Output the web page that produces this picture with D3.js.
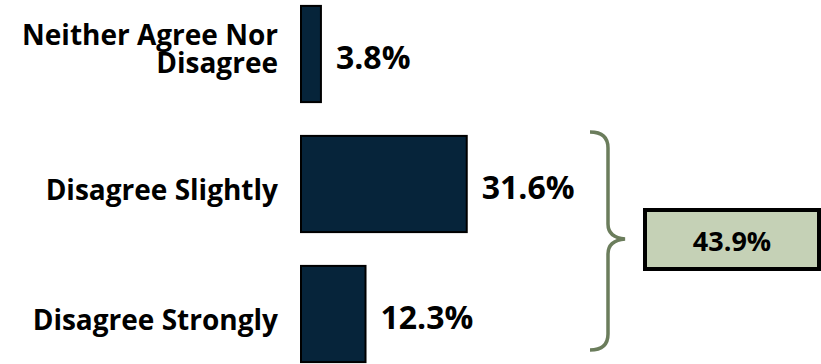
<!DOCTYPE html>
<html>
<head>
<meta charset="utf-8">
<script src="https://cdn.jsdelivr.net/npm/d3@7"></script>
<style>
  html, body { margin: 0; padding: 0; background: #fff; }
  svg { display: block; font-family: 'Open Sans', sans-serif; font-weight: 700; }
</style>
</head>
<body>
<div class="vis-bars"></div>
<script>
const categories = ['Neither Agree Nor Disagree', 'Disagree Slightly', 'Disagree Strongly'];
const labelLines = [['Neither Agree Nor', 'Disagree'], ['Disagree Slightly'], ['Disagree Strongly']];
const values = [3.8, 31.6, 12.3];
const groupedCats = ['Disagree Slightly', 'Disagree Strongly'];

const width = 821;
const height = 364;

const svg = d3.select('.vis-bars')
  .append('svg')
  .attr('width', width)
  .attr('height', height);

const y = d3.scaleBand()
  .domain(categories)
  .range([-11, 379])
  .paddingInner(0.26)
  .paddingOuter(0.13);

const x = d3.scaleLinear()
  .domain([0, 100])
  .range([301, 825.5]);

const data = categories.map((c, i) => ({ cat: c, value: values[i], lines: labelLines[i] }));

// bars
svg.selectAll('rect.bar')
  .data(data)
  .enter()
  .append('rect')
  .attr('class', 'bar')
  .attr('x', x(0))
  .attr('y', (d) => y(d.cat))
  .attr('width', (d) => x(d.value) - x(0))
  .attr('height', y.bandwidth())
  .attr('fill', '#06243a')
  .attr('stroke', '#000')
  .attr('stroke-width', 2);

// value labels
svg.selectAll('text.val')
  .data(data)
  .enter()
  .append('text')
  .attr('class', 'val')
  .attr('x', (d) => x(d.value) + 15)
  .attr('y', (d) => y(d.cat) + y.bandwidth() / 2 + 15)
  .attr('font-size', 32)
  .attr('fill', '#000')
  .text((d) => `${d.value.toFixed(1)}%`);

// category labels
const cat = svg.selectAll('text.cat')
  .data(data)
  .enter()
  .append('text')
  .attr('class', 'cat')
  .attr('text-anchor', 'end')
  .attr('font-size', 28)
  .attr('fill', '#000');

cat.selectAll('tspan')
  .data((d) => d.lines.map((l, i) => ({ l, i, n: d.lines.length, cy: y(d.cat) + y.bandwidth() / 2 })))
  .enter()
  .append('tspan')
  .attr('x', 278)
  .attr('y', (t) => t.cy + 16 + 28 * t.i - (t.n - 1) * 25)
  .text((t) => t.l);

// brace around the grouped bars
const braceTop = y(groupedCats[0]) - 4;
const braceBot = y(groupedCats[1]) + y.bandwidth() - 12;
const mid = (braceTop + braceBot) / 2 - 2;
const bx = 590;
const vx = 608;
const tip = 625;

const brace = d3.path();
brace.moveTo(bx, braceTop);
brace.bezierCurveTo(bx + 13, braceTop, vx, braceTop + 6, vx, braceTop + 16);
brace.lineTo(vx, mid - 15);
brace.bezierCurveTo(vx, mid - 6, vx + 6, mid - 1, tip, mid);
brace.bezierCurveTo(vx + 6, mid + 1, vx, mid + 6, vx, mid + 15);
brace.lineTo(vx, braceBot - 16);
brace.bezierCurveTo(vx, braceBot - 6, bx + 13, braceBot, bx, braceBot);

svg.append('path')
  .attr('d', brace.toString())
  .attr('fill', 'none')
  .attr('stroke', '#6b7d5c')
  .attr('stroke-width', 3.5);

// total box
const total = d3.sum(data.filter((d) => groupedCats.includes(d.cat)), (d) => d.value);

svg.append('rect')
  .attr('x', 645)
  .attr('y', mid - 29)
  .attr('width', 174)
  .attr('height', 59)
  .attr('fill', '#c5d1b6')
  .attr('stroke', '#000')
  .attr('stroke-width', 4);

svg.append('text')
  .attr('x', 732)
  .attr('y', mid + 12)
  .attr('text-anchor', 'middle')
  .attr('font-size', 27)
  .attr('fill', '#000')
  .text(`${total.toFixed(1)}%`);
</script>
</body>
</html>
